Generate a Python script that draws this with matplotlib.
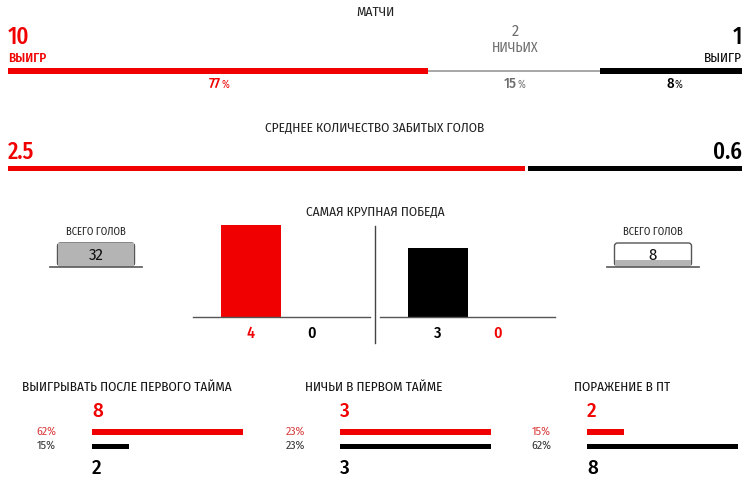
import matplotlib
matplotlib.use("Agg")
import matplotlib.pyplot as plt
from matplotlib.patches import Rectangle, FancyBboxPatch

plt.rcParams['font.family'] = ['Fira Sans Condensed', 'DejaVu Sans']

RED = '#f00000'
BLACK = '#000000'
GREY = '#a8a8a8'
TXT_GREY = '#6e6e6e'

# --- Данные ---
match_counts = [10, 2, 1]            # победы хозяев, ничьи, победы гостей
match_pct = [77, 15, 8]
match_bar_share = [0.572, 0.234, 0.194]   # доли ширины полосы, как на картинке
avg_goals = [2.5, 0.6]
avg_bar_share = [0.706, 0.294]
total_goals = [32, 8]
big_win_home = [4, 0]
big_win_away = [3, 0]
ht_titles = ['ВЫИГРЫВАТЬ ПОСЛЕ ПЕРВОГО ТАЙМА', 'НИЧЬИ В ПЕРВОМ ТАЙМЕ', 'ПОРАЖЕНИЕ В ПТ']
ht_counts_home = [8, 3, 2]
ht_counts_away = [2, 3, 8]
ht_pct_home = [62, 23, 15]
ht_pct_away = [15, 23, 62]

fig = plt.figure(figsize=(7.5, 4.88), dpi=100)
ax = fig.add_axes([0, 0, 1, 1])
ax.set_xlim(0, 750)
ax.set_ylim(488, 0)
ax.axis('off')

X0, X1 = 8, 742
W = X1 - X0

# --- Матчи ---
ax.text(375, 12, 'МАТЧИ', ha='center', va='center', fontsize=9.6, color='#222222')
ax.text(X0, 37, str(match_counts[0]), ha='left', va='center', fontsize=16.5, fontweight='medium', color=RED)
ax.text(X0, 58, 'ВЫИГР', ha='left', va='center', fontsize=9.5, fontweight='medium', color=RED)
ax.text(X1, 37, str(match_counts[2]), ha='right', va='center', fontsize=16.5, fontweight='medium', color=BLACK)
ax.text(X1, 58, 'ВЫИГР', ha='right', va='center', fontsize=9.5, color=BLACK)
ax.text(515, 31, str(match_counts[1]), ha='center', va='center', fontsize=11.5, color=TXT_GREY)
ax.text(515, 48, 'НИЧЬИХ', ha='center', va='center', fontsize=10, color=TXT_GREY)

seg_colors = [RED, GREY, BLACK]
seg_heights = [6, 2, 6]
pct_colors = [RED, TXT_GREY, BLACK]
left = X0
for share, col, h, pct, pc in zip(match_bar_share, seg_colors, seg_heights, match_pct, pct_colors):
    w = share * W
    ax.add_patch(Rectangle((left, 70.5 - h / 2), w, h, color=col, lw=0))
    cx = left + w / 2
    ax.text(cx + 3, 84, str(pct), ha='right', va='center', fontsize=10.5, fontweight='medium', color=pc)
    ax.text(cx + 3.5, 85, '%', ha='left', va='center', fontsize=7.5, color=pc)
    left += w

# --- Среднее количество голов ---
ax.text(375, 128, 'СРЕДНЕЕ КОЛИЧЕСТВО ЗАБИТЫХ ГОЛОВ', ha='center', va='center', fontsize=9.6, color='#222222')
ax.text(X0, 152, f'{avg_goals[0]}', ha='left', va='center', fontsize=16.5, fontweight='medium', color=RED)
ax.text(X1, 152, f'{avg_goals[1]}', ha='right', va='center', fontsize=16.5, fontweight='medium', color=BLACK)
wr = avg_bar_share[0] * W
ax.add_patch(Rectangle((X0, 165.5), wr - 1.5, 5, color=RED, lw=0))
ax.add_patch(Rectangle((X0 + wr + 1.5, 165.5), W - wr - 1.5, 5, color=BLACK, lw=0))

# --- Всего голов ---
box_w, box_h = 77, 23
max_goals = max(total_goals)
for cx, goals in zip([96, 653], total_goals):
    ax.text(cx, 232, 'ВСЕГО ГОЛОВ', ha='center', va='center', fontsize=7.6, color='#222222')
    bx, by = cx - box_w / 2, 243
    frac = goals / max_goals
    ax.add_patch(FancyBboxPatch((bx, by), box_w, box_h, boxstyle='round,pad=0,rounding_size=3',
                                fc='white', ec='#555555', lw=1.0, zorder=2))
    ax.add_patch(Rectangle((bx + 0.8, by + box_h * (1 - frac)), box_w - 1.6, box_h * frac - 0.5,
                           color='#b4b4b4', lw=0, zorder=3))
    ax.plot([cx - 46, cx + 46], [267, 267], color='#666666', lw=1.3, zorder=4)
    ax.text(cx, 255, str(goals), ha='center', va='center', fontsize=12, color='#111111', zorder=5)

# --- Самая крупная победа ---
ax.text(375, 212, 'САМАЯ КРУПНАЯ ПОБЕДА', ha='center', va='center', fontsize=9.6, color='#222222')
px_per_goal = 23
base_y = 317
ax.plot([375, 375], [226, 343], color='#444444', lw=1)
panels = [
    (193, 370, [251, 312], big_win_home, [RED, BLACK]),
    (380, 555, [438, 498], big_win_away, [BLACK, RED]),
]
for xa, xb, centers, vals, cols in panels:
    for c, v, col in zip(centers, vals, cols):
        if v > 0:
            ax.add_patch(Rectangle((c - 30, base_y - v * px_per_goal), 60, v * px_per_goal, color=col, lw=0))
        ax.text(c, 333, str(v), ha='center', va='center', fontsize=11.5, fontweight='medium', color=col)
    ax.plot([xa, xb], [base_y, base_y], color='#555555', lw=1)

# --- Первый тайм ---
groups_x = [22, 305, 574]
pct_right = [56, 305, 551]
bar_left = [92, 340, 587]
full_w = 151
for i in range(3):
    ax.text(groups_x[i], 387, ht_titles[i], ha='left', va='center', fontsize=9.5, color='#111111')
    ax.text(bar_left[i], 411, str(ht_counts_home[i]), ha='left', va='center', fontsize=15, fontweight='medium', color=RED)
    ax.text(bar_left[i], 468, str(ht_counts_away[i]), ha='left', va='center', fontsize=15, fontweight='medium', color=BLACK)
    gmax = max(ht_pct_home[i], ht_pct_away[i])
    ax.add_patch(Rectangle((bar_left[i], 429), ht_pct_home[i] / gmax * full_w, 6, color=RED, lw=0))
    ax.add_patch(Rectangle((bar_left[i], 443.5), ht_pct_away[i] / gmax * full_w, 5.5, color=BLACK, lw=0))
    ax.text(pct_right[i], 432, f'{ht_pct_home[i]}%', ha='right', va='center', fontsize=8.5, color='#d83a3a')
    ax.text(pct_right[i], 446, f'{ht_pct_away[i]}%', ha='right', va='center', fontsize=8.5, color='#333333')

fig.savefig('out.png', dpi=100)
